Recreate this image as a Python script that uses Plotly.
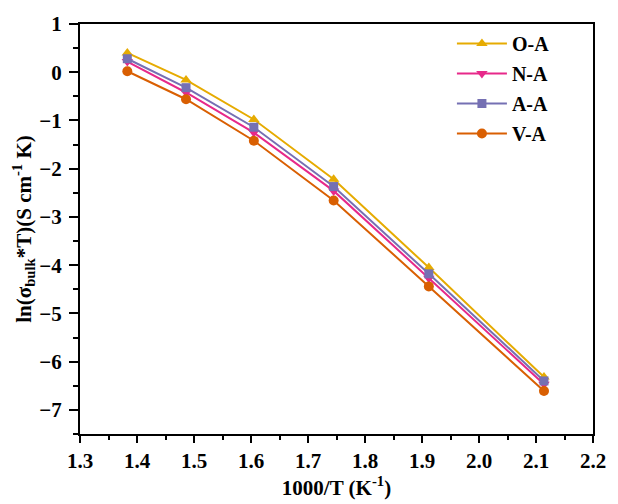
import plotly.graph_objects as go

x_vals = [1.383, 1.486, 1.605, 1.745, 1.912, 2.114]
series_names = ["O-A", "N-A", "A-A", "V-A"]
oa = [0.40, -0.16, -0.98, -2.22, -4.05, -6.32]
na = [0.22, -0.42, -1.25, -2.46, -4.27, -6.47]
aa = [0.28, -0.32, -1.14, -2.37, -4.18, -6.40]
va = [0.02, -0.56, -1.42, -2.66, -4.44, -6.61]
x_ticks = [1.3, 1.4, 1.5, 1.6, 1.7, 1.8, 1.9, 2.0, 2.1, 2.2]
x_ticktext = ["1.3", "1.4", "1.5", "1.6", "1.7", "1.8", "1.9", "2.0", "2.1", "2.2"]
y_ticks = [1, 0, -1, -2, -3, -4, -5, -6, -7]
y_ticktext = ["1", "0", "\u22121", "\u22122", "\u22123", "\u22124", "\u22125", "\u22126", "\u22127"]

colors = ["#E6AB02", "#E7298A", "#7570B3", "#D95F02"]
symbols = ["triangle-up", "triangle-down", "square", "circle"]
data = [oa, na, aa, va]

FONT = "Liberation Serif"

fig = go.Figure()
for name, ys, c, s in zip(series_names, data, colors, symbols):
    fig.add_trace(go.Scatter(
        x=x_vals, y=ys, name=name, mode="lines+markers", legendgroup=name,
        line=dict(color=c, width=2),
        marker=dict(symbol=s, size=10 if s != "square" else 9, color=c),
    ))

axis_common = dict(
    showline=True, linecolor="black", linewidth=2, mirror=True,
    ticks="outside", tickwidth=2, tickcolor="black",
    showgrid=False, zeroline=False,
    tickfont=dict(family=FONT, size=21, color="black", weight="bold"),
)

fig.update_xaxes(
    range=[1.3, 2.2], tickvals=x_ticks, ticktext=x_ticktext, ticklen=7,
    minor=dict(ticks="outside", ticklen=4, tickwidth=2, tickcolor="black", dtick=0.05, tick0=1.3),
    title=dict(text="1000/T (K<sup>-1</sup>)", font=dict(family=FONT, size=21, color="black", weight="bold"), standoff=2),
    **axis_common,
)
fig.update_yaxes(
    range=[-7.5, 1], tickvals=y_ticks, ticktext=y_ticktext, ticklen=9,
    ticklabelstandoff=3,
    minor=dict(ticks="outside", ticklen=5, tickwidth=2, tickcolor="black", dtick=0.5, tick0=0),
    title=dict(text="ln(\u03c3<sub>bulk</sub>*T)(S cm<sup>-1</sup> K)", font=dict(family=FONT, size=21, color="black", weight="bold"), standoff=2),
    **axis_common,
)

fig.update_layout(
    width=618, height=504,
    margin=dict(l=80, r=20, t=15, b=70),
    plot_bgcolor="white", paper_bgcolor="white",
    legend=dict(
        x=0.725, y=1.0, xanchor="left", yanchor="top",
        font=dict(family=FONT, size=20, color="black", weight="bold"),
        bgcolor="rgba(0,0,0,0)", itemwidth=50, tracegroupgap=1,
    ),
)

fig.write_html("out.html")
